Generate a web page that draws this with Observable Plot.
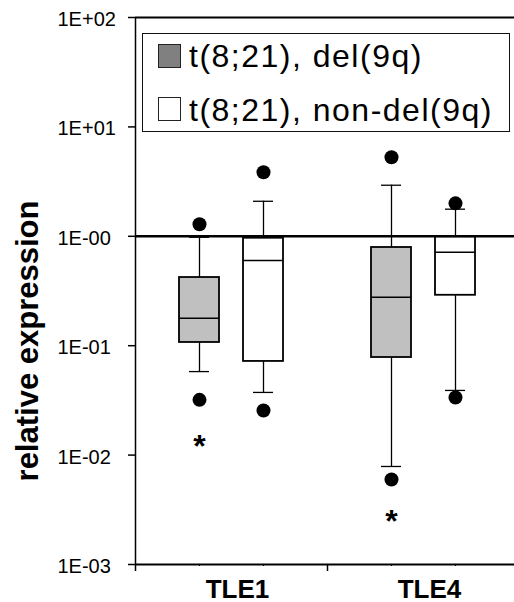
<!DOCTYPE html>
<html>
<head>
<meta charset="utf-8">
<script src="https://cdn.jsdelivr.net/npm/d3@7"></script>
<script src="https://cdn.jsdelivr.net/npm/@observablehq/plot@0.6"></script>
<style>
  body { margin: 0; background: #fff; }
  #wrap { position: relative; width: 514px; height: 602px; font-family: "Liberation Sans", Arial, Helvetica, sans-serif; color: #000; }
  #wrap svg { position: absolute; left: 0; top: 0; }
  .lg-box { position: absolute; left: 142px; top: 33px; width: 368px; height: 99px; border: 1.5px solid #111; box-sizing: border-box; background: #fff; }
  .lg-sw { position: absolute; left: 158px; width: 23px; height: 24px; border: 1.5px solid #222; box-sizing: border-box; }
  .lg-tx { position: absolute; left: 189px; font-size: 32px; line-height: 32px; letter-spacing: 1.5px; white-space: nowrap; }
</style>
</head>
<body>
<div id="wrap"></div>
<script>
// ---- data ----
const genes = ["TLE1", "TLE4"];
const groups = ["t(8;21), del(9q)", "t(8;21), non-del(9q)"];
const groupFill = ["#c0c0c0", "#ffffff"];
const legendFill = ["#808080", "#ffffff"];
// box order: TLE1 del, TLE1 non-del, TLE4 del, TLE4 non-del
const boxGene = [0, 0, 1, 1];
const boxGroup = [0, 1, 0, 1];
const q1 = [0.107, 0.0718, 0.078, 0.289];
const median = [0.178, 0.60, 0.277, 0.714];
const q3 = [0.42, 0.96, 0.79, 0.99];
const whiskerLow = [0.058, 0.0374, 0.00787, 0.039];
const whiskerHigh = [0.98, 2.09, 2.93, 1.77];
const outlierLow = [0.032, 0.0256, 0.00598, 0.0336];
const outlierHigh = [1.29, 3.85, 5.28, 2.0];
// significance asterisks (below the del(9q) boxes)
const starGene = [0, 1];
const starY = [0.0142, 0.00292];
const yTicks = [100, 10, 1, 0.1, 0.01, 0.001];
const yTickLabels = ["1E+02", "1E+01", "1E-00", "1E-01", "1E-02", "1E-03"];
const yTitle = "relative expression";

// ---- build table ----
const pos = (gi, g) => gi + 0.5 + (g === 0 ? -1 : 1) / 6;
const rows = q1.map((_, k) => ({
  gene: genes[boxGene[k]], group: boxGroup[k], pos: pos(boxGene[k], boxGroup[k]),
  q1: q1[k], median: median[k], q3: q3[k],
  wl: whiskerLow[k], wh: whiskerHigh[k], ol: outlierLow[k], oh: outlierHigh[k]
}));
const stars = starGene.map((gi, i) => ({pos: pos(gi, 0), y: starY[i]}));
const geneRows = genes.map((g, i) => ({gene: g, pos: i + 0.5}));

const BW = 20 / 192;   // half box width (data units)
const CW = 10 / 192;   // half cap width

const chart = Plot.plot({
  width: 514,
  height: 602,
  marginLeft: 135,
  marginRight: 0,
  marginTop: 17,
  marginBottom: 38,
  style: {fontFamily: '"Liberation Sans", Arial, Helvetica, sans-serif', fontSize: "20px", background: "transparent", color: "#000", overflow: "visible"},
  x: {type: "linear", domain: [0, 2], range: [135, 519]},
  y: {type: "log", domain: [0.001, 100]},
  marks: [
    // y axis ticks and (left-aligned) labels
    Plot.axisY({ticks: yTicks, tickSize: 7, fill: "none", label: null, strokeWidth: 1.5}),
    Plot.axisY({ticks: yTicks, tickSize: 7, tickPadding: 71, textAnchor: "start", stroke: "none", dy: 2, fontSize: 20,
      tickFormat: d => yTickLabels[yTicks.indexOf(d)], label: null}),
    // x axis ticks (boundaries and box positions)
    Plot.axisX({ticks: [0, 1, 2], tickSize: 7, tickFormat: () => "", label: null, strokeWidth: 1.5}),
    Plot.axisX({ticks: rows.map(d => d.pos), tickSize: 2, tickFormat: () => "", label: null}),
    // frame lines
    Plot.ruleX([0], {strokeWidth: 1.5}),
    Plot.ruleY([100], {strokeWidth: 2}),
    Plot.ruleY([0.001], {strokeWidth: 2}),
    // whiskers
    Plot.ruleX(rows, {x: "pos", y1: "q3", y2: "wh", strokeWidth: 1.3}),
    Plot.ruleX(rows, {x: "pos", y1: "wl", y2: "q1", strokeWidth: 1.3}),
    Plot.ruleY(rows, {y: "wh", x1: d => d.pos - CW, x2: d => d.pos + CW, strokeWidth: 1.3}),
    Plot.ruleY(rows, {y: "wl", x1: d => d.pos - CW, x2: d => d.pos + CW, strokeWidth: 1.3}),
    // boxes
    Plot.rect(rows, {x1: d => d.pos - BW, x2: d => d.pos + BW, y1: "q1", y2: "q3",
      fill: d => groupFill[d.group], stroke: "#000", strokeWidth: 1.8}),
    Plot.ruleY(rows, {y: "median", x1: d => d.pos - BW, x2: d => d.pos + BW, strokeWidth: 1.5}),
    // reference line at 1
    Plot.ruleY([1], {strokeWidth: 2.6}),
    // outliers
    Plot.dot(rows, {x: "pos", y: "oh", r: 7, fill: "#000"}),
    Plot.dot(rows, {x: "pos", y: "ol", r: 7, fill: "#000"}),
    // asterisks
    Plot.text(stars, {x: "pos", y: "y", text: () => "*", fontSize: 32, fontWeight: "bold", dy: 8}),
    // gene labels
    Plot.text(geneRows, {x: "pos", text: "gene", frameAnchor: "bottom", lineAnchor: "bottom",
      dy: 33, dx: 6, fontSize: 26, fontWeight: "bold"}),
    // y title
    Plot.text([yTitle], {text: d => d, frameAnchor: "left", rotate: -90, textAnchor: "middle",
      lineAnchor: "bottom", dx: -98, dy: 50, fontSize: 31, fontWeight: "bold"})
  ]
});

const wrap = document.getElementById("wrap");
wrap.appendChild(chart);

// legend (inside the plot area, top)
const box = document.createElement("div");
box.className = "lg-box";
wrap.appendChild(box);
const swTop = [44, 97];
const txTop = [40, 94];
groups.forEach((g, i) => {
  const sw = document.createElement("div");
  sw.className = "lg-sw";
  sw.style.top = swTop[i] + "px";
  sw.style.background = legendFill[i];
  wrap.appendChild(sw);
  const tx = document.createElement("div");
  tx.className = "lg-tx";
  tx.style.top = txTop[i] + "px";
  tx.textContent = g;
  wrap.appendChild(tx);
});
</script>
</body>
</html>
